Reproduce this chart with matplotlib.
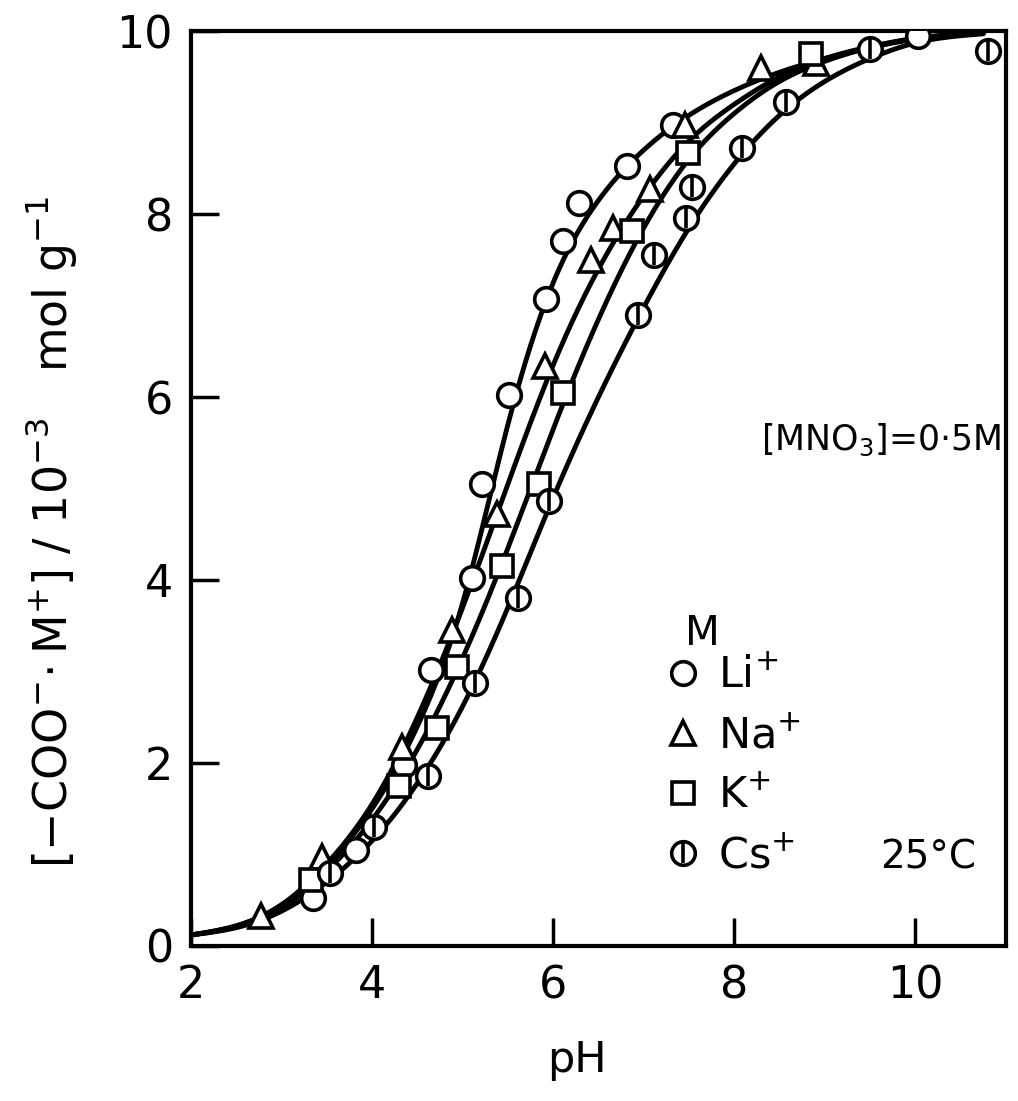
import matplotlib
matplotlib.use('Agg')
import matplotlib.pyplot as plt
from matplotlib.lines import Line2D
from matplotlib.legend_handler import HandlerTuple
import numpy as np

plt.rcParams.update({
    'font.family': ['DejaVu Sans'],
    'font.size': 30,
    'mathtext.default': 'regular',
})

# measured points (pH, [-COO-M+] / 1e-3 mol g-1)
li_ph = [3.35, 3.82, 4.35, 4.65, 5.10, 5.21, 5.51, 5.92, 6.11, 6.28, 6.81, 7.32, 10.03]
li_val = [0.52, 1.05, 1.98, 3.02, 4.02, 5.05, 6.02, 7.07, 7.70, 8.12, 8.52, 8.97, 9.95]

na_ph = [2.77, 3.45, 4.33, 4.88, 5.38, 5.91, 6.42, 6.66, 7.07, 7.45, 8.30, 8.90]
na_val = [0.33, 0.97, 2.17, 3.45, 4.72, 6.34, 7.50, 7.85, 8.27, 8.97, 9.60, 9.65]

k_ph = [3.33, 4.30, 4.72, 4.94, 5.43, 5.84, 6.11, 6.87, 7.49, 8.85]
k_val = [0.72, 1.75, 2.38, 3.05, 4.15, 5.05, 6.04, 7.82, 8.67, 9.75]

cs_ph = [3.53, 4.02, 4.62, 5.14, 5.61, 5.95, 6.94, 7.11, 7.47, 7.53, 8.09, 8.57, 9.50, 10.80]
cs_val = [0.80, 1.30, 1.86, 2.87, 3.80, 4.86, 6.90, 7.55, 7.96, 8.30, 8.72, 9.22, 9.80, 9.78]

# traced fitted curves (knots every 0.5 pH)
curve_ph = [2.0, 2.5, 3.0, 3.5, 4.0, 4.5, 5.0, 5.5, 6.0, 6.5, 7.0, 7.5, 8.0, 8.5, 9.0, 9.5, 10.0, 10.75]
li_curve = [0.12, 0.22, 0.45, 0.88, 1.50, 2.40, 3.75, 5.70, 7.25, 8.15, 8.70, 9.08, 9.35, 9.55, 9.70, 9.82, 9.91, 9.98]
na_curve = [0.12, 0.22, 0.45, 0.90, 1.55, 2.50, 3.70, 5.05, 6.35, 7.40, 8.20, 8.80, 9.20, 9.50, 9.70, 9.83, 9.92, 9.98]
k_curve = [0.12, 0.21, 0.42, 0.82, 1.38, 2.15, 3.15, 4.35, 5.65, 6.85, 7.85, 8.60, 9.10, 9.45, 9.67, 9.82, 9.92, 9.98]
cs_curve = [0.12, 0.20, 0.38, 0.70, 1.15, 1.78, 2.62, 3.70, 4.90, 6.00, 6.98, 7.85, 8.55, 9.08, 9.45, 9.70, 9.87, 9.97]

x_ticks = [2, 4, 6, 8, 10]
y_ticks = [0, 2, 4, 6, 8, 10]


def smooth(x, y, xs):
    # natural cubic spline through the traced knots
    x = np.asarray(x, float); y = np.asarray(y, float)
    n = len(x); h = np.diff(x)
    A = np.zeros((n, n)); r = np.zeros(n)
    A[0, 0] = A[-1, -1] = 1
    for i in range(1, n - 1):
        A[i, i - 1] = h[i - 1]; A[i, i] = 2 * (h[i - 1] + h[i]); A[i, i + 1] = h[i]
        r[i] = 6 * ((y[i + 1] - y[i]) / h[i] - (y[i] - y[i - 1]) / h[i - 1])
    M = np.linalg.solve(A, r)
    i = np.clip(np.searchsorted(x, xs) - 1, 0, n - 2)
    hi = h[i]; a = x[i + 1] - xs; b = xs - x[i]
    return (M[i] * a**3 + M[i + 1] * b**3) / (6 * hi) \
        + (y[i] / hi - M[i] * hi / 6) * a + (y[i + 1] / hi - M[i + 1] * hi / 6) * b


fig = plt.figure(figsize=(10.18, 11.01), dpi=100)
ax = fig.add_axes([0.1876, 0.1408, 0.8006, 0.831])

xs = np.linspace(curve_ph[0], curve_ph[-1], 500)
for cy in [li_curve, na_curve, k_curve, cs_curve]:
    ax.plot(xs, smooth(curve_ph, cy, xs), color='black', lw=3.5, zorder=2,
            solid_capstyle='round')

ms = 17
mk = dict(color='black', mfc='white', mew=2.6, ls='none', zorder=3)
bar = dict(marker='|', ms=ms - 2, color='black', mew=2.6, ls='none')
ax.plot(li_ph, li_val, marker='o', ms=ms, **mk)
ax.plot(na_ph, na_val, marker='^', ms=ms, **mk)
ax.plot(k_ph, k_val, marker='s', ms=ms - 1, **mk)
ax.plot(cs_ph, cs_val, marker='o', ms=ms, **mk)
ax.plot(cs_ph, cs_val, zorder=4, **bar)

ax.set_xlim(2, 11)
ax.set_ylim(0, 10)
ax.set_xticks(x_ticks)
ax.set_yticks(y_ticks)
ax.tick_params(direction='in', length=20, width=2.5, labelsize=32, pad=13)
for s in ax.spines.values():
    s.set_linewidth(3)

ax.set_xlabel('pH', fontsize=31)
ax.xaxis.set_label_coords(0.474, -0.102)
ax.set_ylabel(r'[$-$COO$^{-}\!\cdot$M$^{+}$] / 10$^{-3}$   mol g$^{-1}$', fontsize=33)
ax.yaxis.set_label_coords(-0.137, 0.452)

ax.text(0.70, 0.553, r'[MNO$_3$]=0$\cdot$5M', transform=ax.transAxes, fontsize=25,
        ha='left', va='center')
ax.text(0.845, 0.097, '25°C', transform=ax.transAxes, fontsize=28, ha='left', va='center')
ax.text(0.627, 0.341, 'M', transform=ax.transAxes, fontsize=29, ha='center', va='center')

h_li = Line2D([], [], marker='o', ms=ms, **mk)
h_na = Line2D([], [], marker='^', ms=ms, **mk)
h_k = Line2D([], [], marker='s', ms=ms - 1, **mk)
h_cs = (Line2D([], [], marker='o', ms=ms, **mk), Line2D([], [], **bar))
ax.legend([h_li, h_na, h_k, h_cs], [r'Li$^{+}$', r'Na$^{+}$', r'K$^{+}$', r'Cs$^{+}$'],
          handler_map={tuple: HandlerTuple(ndivide=1, pad=0)},
          fontsize=31, frameon=False, loc='upper left',
          bbox_to_anchor=(0.583, 0.318), borderpad=0, borderaxespad=0,
          handlelength=0.8, handletextpad=0.4, labelspacing=0.42)

fig.savefig('out.png', dpi=100)
